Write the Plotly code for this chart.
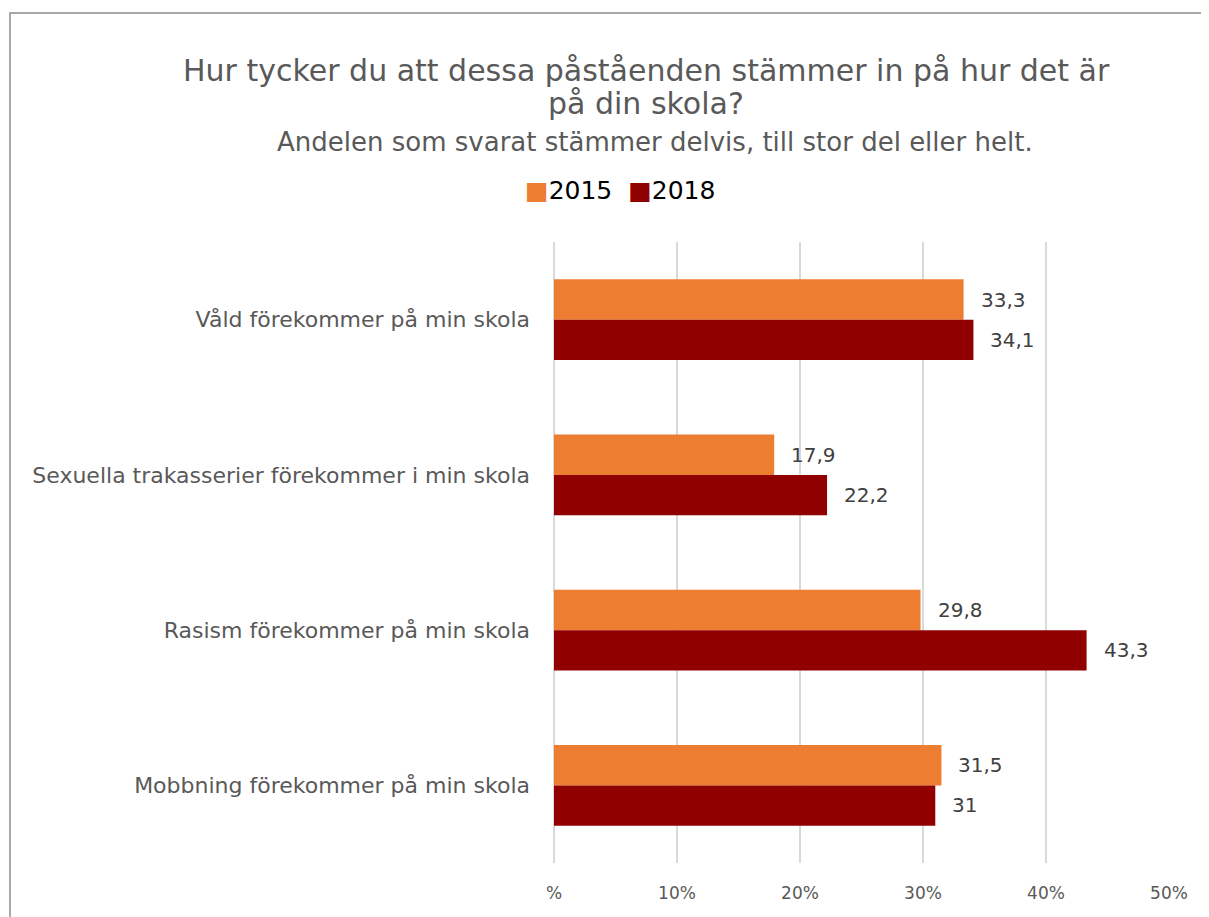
import plotly.graph_objects as go

categories = ["Våld förekommer på min skola",
              "Sexuella trakasserier förekommer i min skola",
              "Rasism förekommer på min skola",
              "Mobbning förekommer på min skola"]
values_2015 = [33.3, 17.9, 29.8, 31.5]
values_2018 = [34.1, 22.2, 43.3, 31.0]
tick_vals = [0, 10, 20, 30, 40, 50]
tick_labels = ["%", "10%", "20%", "30%", "40%", "50%"]

FONT = "DejaVu Sans"
GRAY = "#595959"
C2015 = "#ED7D31"
C2018 = "#900000"

def fmt(v):
    return ("%g" % v).replace(".", ",")

fig = go.Figure()
fig.add_trace(go.Bar(y=categories, x=values_2015, name="2015", orientation="h",
                     marker=dict(color=C2015, line=dict(width=0))))
fig.add_trace(go.Bar(y=categories, x=values_2018, name="2018", orientation="h",
                     marker=dict(color=C2018, line=dict(width=0))))

# page body has an 8px margin; work in reference pixel coords and subtract it
O = 8
W, H = 1209 - O, 917 - O
ml, mr, mt, mb = 554 - O, 1209 - 1169, 242 - O, 917 - 863
pw, ph = W - ml - mr, H - mt - mb

def px_x(px):
    return (px - O - ml) / pw

def px_y(py):
    return 1 - (py - O - mt) / ph

annotations = []
for cat, v in zip(categories, values_2015):
    annotations.append(dict(x=v, y=cat, xref="x", yref="y", text=fmt(v), showarrow=False,
                            xanchor="left", xshift=15, yshift=20,
                            font=dict(family=FONT, size=20, color="#404040")))
for cat, v in zip(categories, values_2018):
    annotations.append(dict(x=v, y=cat, xref="x", yref="y", text=fmt(v), showarrow=False,
                            xanchor="left", xshift=15, yshift=-20,
                            font=dict(family=FONT, size=20, color="#404040")))

annotations.append(dict(x=px_x(646), y=px_y(70), xref="paper", yref="paper",
                        text="Hur tycker du att dessa påståenden stämmer in på hur det är",
                        showarrow=False, xanchor="center", yanchor="middle",
                        font=dict(family=FONT, size=30, color=GRAY)))
annotations.append(dict(x=px_x(646), y=px_y(104), xref="paper", yref="paper",
                        text="på din skola?",
                        showarrow=False, xanchor="center", yanchor="middle",
                        font=dict(family=FONT, size=30, color=GRAY)))
annotations.append(dict(x=px_x(655), y=px_y(142), xref="paper", yref="paper",
                        text="Andelen som svarat stämmer delvis, till stor del eller helt.",
                        showarrow=False, xanchor="center", yanchor="middle",
                        font=dict(family=FONT, size=26, color=GRAY)))
annotations.append(dict(x=px_x(620), y=px_y(190), xref="paper", yref="paper",
                        text=(f'<span style="color:{C2015}">■</span>2015  '
                              f'<span style="color:{C2018}">■</span>2018'),
                        showarrow=False, xanchor="center", yanchor="middle",
                        font=dict(family=FONT, size=25, color="#000000")))

fig.update_layout(
    width=W, height=H,
    margin=dict(l=ml, r=mr, t=mt, b=mb, pad=0),
    paper_bgcolor="white", plot_bgcolor="white",
    barmode="group", bargap=0.48, bargroupgap=0,
    annotations=annotations,
    showlegend=False,
    xaxis=dict(range=[0, 50], tickvals=tick_vals, ticktext=tick_labels,
               showgrid=True, gridcolor="#D9D9D9", gridwidth=1.5,
               zeroline=True, zerolinecolor="#D9D9D9", zerolinewidth=1.5,
               showline=False, ticks="", ticklabelstandoff=18,
               tickfont=dict(family=FONT, size=17, color=GRAY), fixedrange=True),
    yaxis=dict(autorange="reversed", showgrid=False, showline=False, ticks="",
               ticklabelstandoff=23,
               tickfont=dict(family=FONT, size=22, color=GRAY), fixedrange=True),
    shapes=[dict(type="rect", xref="paper", yref="paper",
                 x0=px_x(10), x1=px_x(1230), y0=px_y(940), y1=px_y(13),
                 line=dict(color="#8C8C8C", width=1.5), fillcolor="rgba(0,0,0,0)", layer="below")],
)

fig.write_html("out.html", config={"displayModeBar": False})
